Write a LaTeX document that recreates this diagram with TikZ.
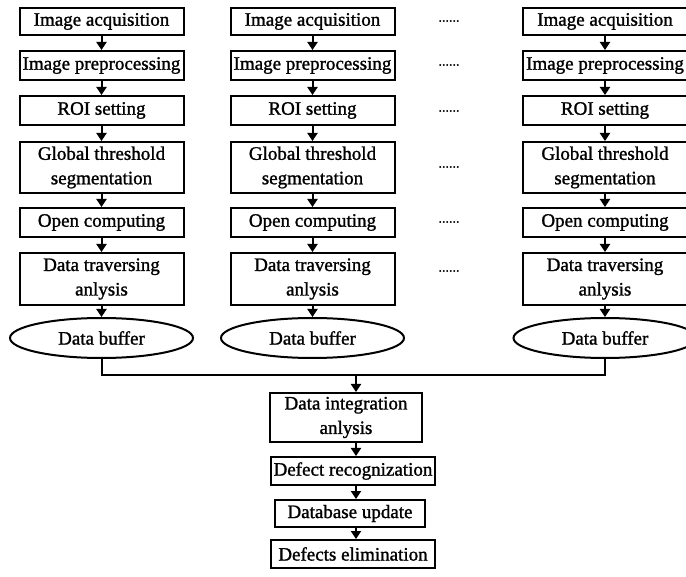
\documentclass[tikz,border=0pt]{standalone}
\usepackage{fontspec}
\setmainfont[AutoFakeBold=1.3]{Liberation Serif}
\usetikzlibrary{shapes.geometric,arrows.meta}
\begin{document}
\begin{tikzpicture}[x=1pt,y=-1pt,
  box/.style={draw,line width=2pt,inner sep=0pt,minimum height=29pt,align=center,font=\fontsize{19}{24.5}\selectfont\bfseries},
  ell/.style={draw,ellipse,line width=2pt,inner sep=0pt,minimum width=183pt,minimum height=40pt,font=\fontsize{19}{24}\selectfont\bfseries},
  arr/.style={line width=2pt,-{Triangle[length=8pt,width=10pt]}},
  dots/.style={inner sep=0pt,font=\fontsize{14}{14}\selectfont\bfseries},
  bus/.style={line width=2pt}]
\useasboundingbox (0,0) rectangle (686,577);
\foreach \c/\x in {1/101.5,2/312.5,3/605}{
  \node[box,minimum width=164pt,minimum height=27pt] (acq\c) at (\x,21.5) {Image acquisition};
  \node[box,minimum width=164pt] (pre\c) at (\x,65.5) {Image preprocessing};
  \node[box,minimum width=164pt] (roi\c) at (\x,110.5) {ROI setting};
  \node[box,minimum width=164pt,minimum height=51pt] (glo\c) at (\x,167.5) {Global threshold\\segmentation};
  \node[box,minimum width=164pt] (opn\c) at (\x,222.5) {Open computing};
  \node[box,minimum width=164pt,minimum height=52pt] (trv\c) at (\x,279) {Data traversing\\anlysis};
  \node[ell] (buf\c) at (\x,338) {Data buffer};
  \draw[arr] (acq\c.south) -- (pre\c.north);
  \draw[arr] (pre\c.south) -- (roi\c.north);
  \draw[arr] (roi\c.south) -- (glo\c.north);
  \draw[arr] (glo\c.south) -- (opn\c.north);
  \draw[arr] (opn\c.south) -- (trv\c.north);
  \draw[arr] (trv\c.south) -- (buf\c.north);
}
\foreach \i/\y in {1/21,2/65,3/111,4/167,5/222,6/271}{
  \node[dots] (dt\i) at (449,\y) {......};
}
\coordinate (busy) at (0,375);
\coordinate (ax) at (356,0);
\node[box,minimum width=152pt,minimum height=49pt] (din) at (346,417.5) {Data integration\\anlysis};
\node[box,minimum width=164pt,minimum height=28pt] (drc) at (353,471) {Defect recognization};
\node[box,minimum width=150pt,minimum height=27pt] (dbu) at (350,513.5) {Database update};
\node[box,minimum width=164pt,minimum height=28pt] (del) at (353,554) {Defects elimination};
\draw[bus] (buf1.south) |- (buf3.south |- busy) -- (buf3.south);
\draw[arr] (ax |- busy) -- (ax |- din.north);
\draw[arr] (ax |- din.south) -- (ax |- drc.north);
\draw[arr] (ax |- drc.south) -- (ax |- dbu.north);
\draw[arr] (ax |- dbu.south) -- (ax |- del.north);
\end{tikzpicture}
\end{document}
